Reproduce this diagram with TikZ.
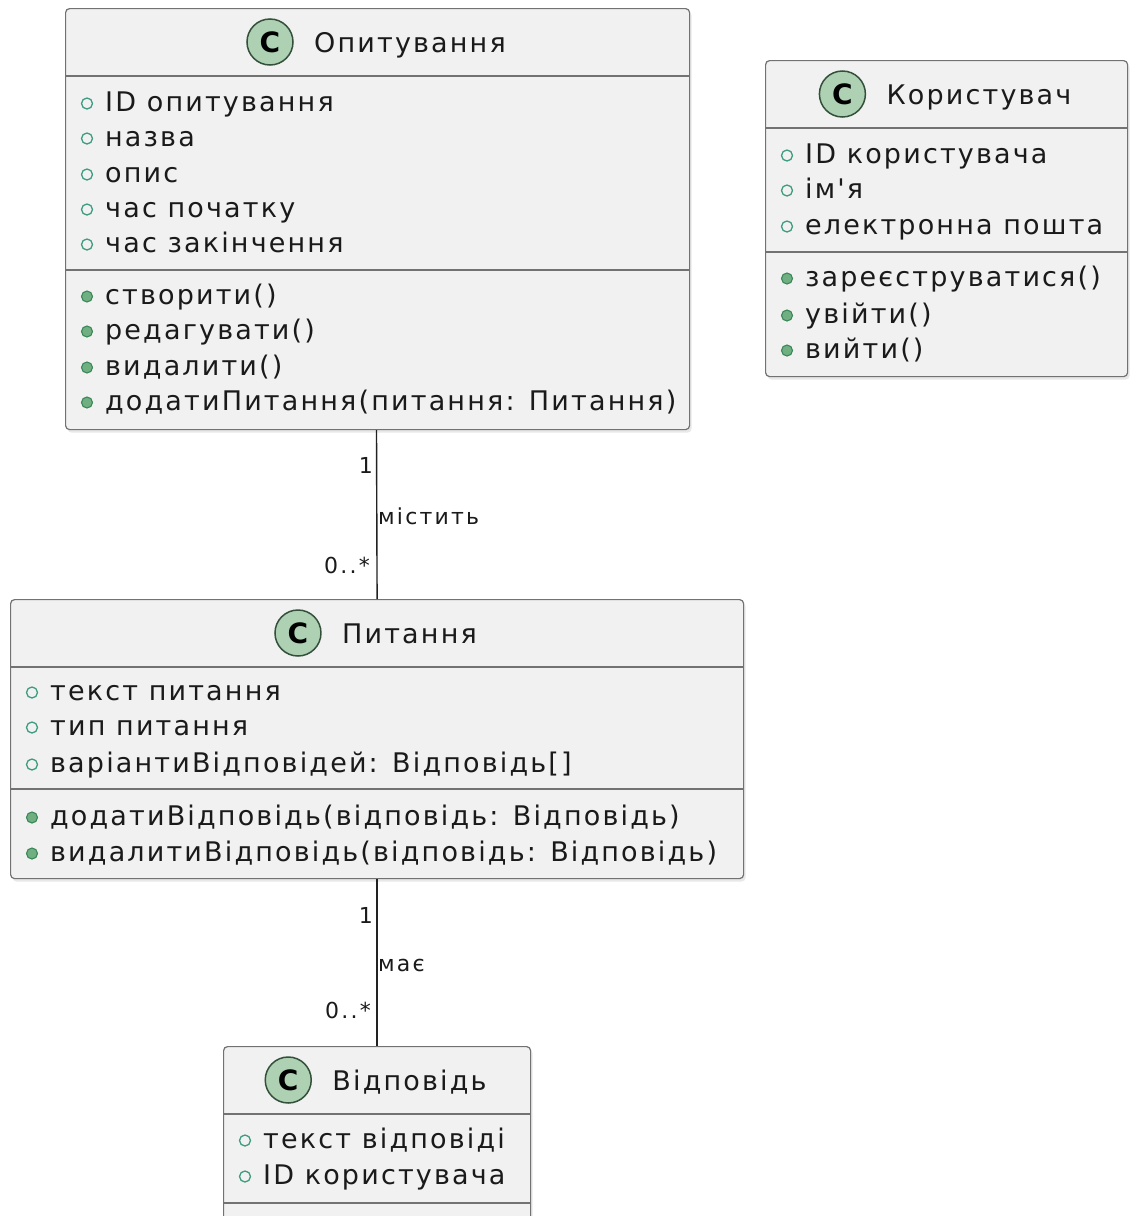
\documentclass[tikz,border=0pt]{standalone}
\usepackage{fontspec}
\setmainfont{DejaVu Sans}[Ligatures=TeXOff]
\newfontfamily\spacedfont{DejaVu Sans}[Ligatures=TeXOff, LetterSpace=8]
\newfontfamily\labelfont{DejaVu Sans}[Ligatures=TeXOff, LetterSpace=10]
\usetikzlibrary{calc,shadows}

\definecolor{boxfill}{HTML}{F1F1F1}
\definecolor{boxline}{HTML}{727272}
\definecolor{txt}{HTML}{1A1A1A}
\definecolor{iconfill}{HTML}{ADD1B2}
\definecolor{iconline}{HTML}{34503B}
\definecolor{fieldc}{HTML}{3E9C80}
\definecolor{methodf}{HTML}{6FAF82}
\definecolor{methodd}{HTML}{3A8758}
\definecolor{link}{HTML}{222222}

% one member row: marker plus text (name, box left, baseline, text)
\newcommand\fieldrow[4]{%
  \draw[fieldmark] (#2+22,#3-7.5) circle[radius=5.5];
  \node[member] (#1) at (#2+40,#3) {#4};}
\newcommand\methodrow[4]{%
  \draw[methodmark] (#2+22,#3-7.5) circle[radius=5.5];
  \node[member] (#1) at (#2+40,#3) {#4};}
% class header: name, box centre x, box top, title
\newcommand\classhead[4]{%
  \node[titletext] (#1) at (#2+33,#3+44) {#4};
  \path (#1.base west) ++(-44,-10) node[classicon] (#1-icon) {C};}

\begin{document}
\begin{tikzpicture}[x=1pt,y=-1pt,
  classbox/.style={draw=boxline, fill=boxfill, line width=1.2pt,
    rounded corners=4pt, inner sep=0pt, anchor=north west,
    drop shadow={shadow xshift=2pt, shadow yshift=-3pt, fill=black!25, opacity=0.35}},
  sepline/.style={draw=boxline, line width=1.2pt},
  member/.style={anchor=base west, inner sep=0pt, text=txt,
    font=\spacedfont\fontsize{27}{30}\selectfont},
  titletext/.style={anchor=base, inner sep=0pt, text=txt,
    font=\spacedfont\fontsize{27}{30}\selectfont},
  classicon/.style={circle, draw=iconline, fill=iconfill, line width=1.5pt,
    minimum size=46pt, inner sep=0pt, text=black,
    font=\fontsize{28}{30}\selectfont\bfseries},
  fieldmark/.style={draw=fieldc, line width=1.3pt},
  methodmark/.style={draw=methodd, fill=methodf, line width=1.1pt},
  assoc/.style={draw=link, line width=1.4pt},
  mult/.style={inner sep=0pt, text=txt, font=\labelfont\fontsize{22}{24}\selectfont},
]
\useasboundingbox (0,0) rectangle (1131,1216);
\clip (0,0) rectangle (1131,1216);
\fill[white] (0,0) rectangle (1131,1216);

% ---------- Опитування ----------
\node[classbox, minimum width=624pt, minimum height=421pt] (op) at (65,8) {};
\draw[sepline] (op.west |- 0,76) -- (op.east |- 0,76);
\draw[sepline] (op.west |- 0,270) -- (op.east |- 0,270);
\classhead{opT}{377}{8}{Опитування}
\fieldrow{op1}{65}{111}{ID опитування}
\fieldrow{op2}{65}{146}{назва}
\fieldrow{op3}{65}{182}{опис}
\fieldrow{op4}{65}{217}{час початку}
\fieldrow{op5}{65}{252}{час закінчення}
\methodrow{op6}{65}{304}{створити()}
\methodrow{op7}{65}{339}{редагувати()}
\methodrow{op8}{65}{375}{видалити()}
\methodrow{op9}{65}{410}{додатиПитання(питання: Питання)}

% ---------- Користувач ----------
\node[classbox, minimum width=362pt, minimum height=316pt] (us) at (765,60) {};
\draw[sepline] (us.west |- 0,128) -- (us.east |- 0,128);
\draw[sepline] (us.west |- 0,252) -- (us.east |- 0,252);
\classhead{usT}{946}{60}{Користувач}
\fieldrow{us1}{765}{163}{ID користувача}
\fieldrow{us2}{765}{198}{ім'я}
\fieldrow{us3}{765}{234}{електронна пошта}
\methodrow{us4}{765}{286}{зареєструватися()}
\methodrow{us5}{765}{323}{увійти()}
\methodrow{us6}{765}{358}{вийти()}

% ---------- Питання ----------
\node[classbox, minimum width=733pt, minimum height=279pt] (qu) at (10,599) {};
\draw[sepline] (qu.west |- 0,667) -- (qu.east |- 0,667);
\draw[sepline] (qu.west |- 0,789) -- (qu.east |- 0,789);
\classhead{quT}{376.5}{599}{Питання}
\fieldrow{qu1}{10}{700}{текст питання}
\fieldrow{qu2}{10}{735}{тип питання}
\fieldrow{qu3}{10}{772}{варіантиВідповідей: Відповідь[]}
\methodrow{qu4}{10}{825}{додатиВідповідь(відповідь: Відповідь)}
\methodrow{qu5}{10}{861}{видалитиВідповідь(відповідь: Відповідь)}

% ---------- Відповідь ----------
\node[classbox, minimum width=307pt, minimum height=220pt] (an) at (223,1046) {};
\draw[sepline] (an.west |- 0,1114) -- (an.east |- 0,1114);
\draw[sepline] (an.west |- 0,1203) -- (an.east |- 0,1203);
\classhead{anT}{376.5}{1046}{Відповідь}
\fieldrow{an1}{223}{1148}{текст відповіді}
\fieldrow{an2}{223}{1184}{ID користувача}

% ---------- associations ----------
\draw[assoc] (op.south -| 376.5,0) -- (qu.north);
\node[mult, anchor=base east] (m1) at (373,473) {1};
\node[mult, anchor=base west] (l1) at (378,524) {містить};
\node[mult, anchor=base east] (m2) at (370,573) {0..*};

\draw[assoc] (qu.south) -- (an.north);
\node[mult, anchor=base east] (m3) at (373,923) {1};
\node[mult, anchor=base west] (l2) at (378,971) {має};
\node[mult, anchor=base east] (m4) at (371,1018) {0..*};
\end{tikzpicture}
\end{document}
